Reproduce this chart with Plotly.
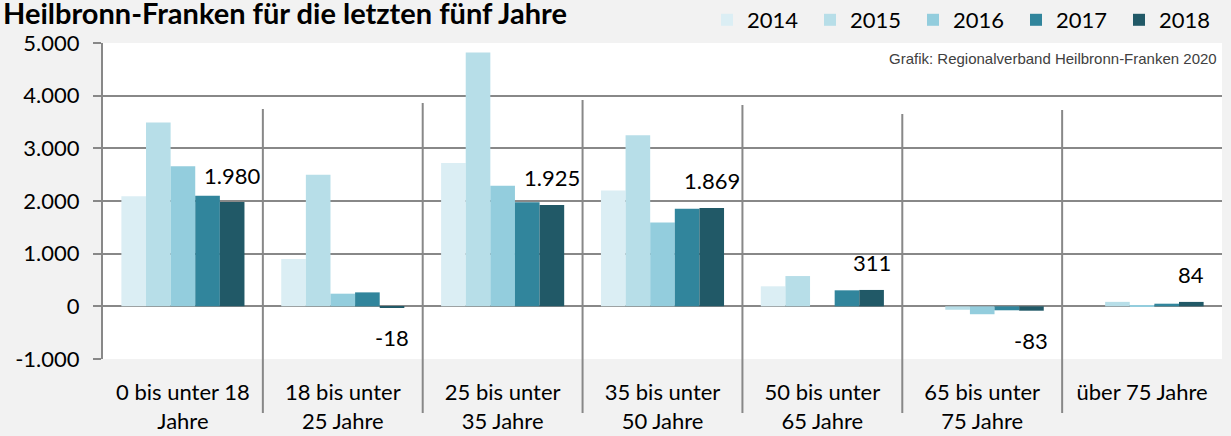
import plotly.graph_objects as go

# ---- data ----
categories = ["0-18", "18-25", "25-35", "35-50", "50-65", "65-75", "75+"]
category_labels = ["0 bis unter 18<br>Jahre", "18 bis unter<br>25 Jahre", "25 bis unter<br>35 Jahre",
                   "35 bis unter<br>50 Jahre", "50 bis unter<br>65 Jahre", "65 bis unter<br>75 Jahre",
                   "über 75 Jahre"]
years = ["2014", "2015", "2016", "2017", "2018"]
v2014 = [2090, 900, 2720, 2200, 380, 0, 0]
v2015 = [3490, 2500, 4820, 3250, 575, -65, 85]
v2016 = [2660, 240, 2290, 1590, 0, -150, 25]
v2017 = [2100, 265, 1975, 1855, 304, -75, 50]
v2018 = [1980, -18, 1925, 1869, 311, -83, 84]
y_tickvals = [-1000, 0, 1000, 2000, 3000, 4000, 5000]
y_ticktext = ["-1.000", "0", "1.000", "2.000", "3.000", "4.000", "5.000"]
title_text = "Heilbronn-Franken für die letzten fünf Jahre"
source_text = "Grafik: Regionalverband Heilbronn-Franken 2020"

# ---- styles ----
colors = ["#DBEEF4", "#B7DEE8", "#93CDDD", "#31859C", "#215967"]
FONT = "Lato"
GRID = "#888888"
W, H = 1231, 436
ML, MR, MT, MB = 103, 9, 43, 77
PW, PH = W - ML - MR, H - MT - MB

def px_x(x):
    return (x - ML) / PW

def px_y(y):
    return (H - MB - y) / PH

fig = go.Figure()
series = [v2014, v2015, v2016, v2017, v2018]
for name, vals, col in zip(years, series, colors):
    fig.add_trace(go.Bar(x=categories, y=vals, name=name, marker=dict(color=col, line=dict(width=0))))

# data labels for 2018
BARGAP = 0.23
cat_w = PW / len(categories)
bar_w = cat_w * (1 - BARGAP) / len(years)
for c, v in zip(categories, v2018):
    lbl = f"{v:,}".replace(",", ".")
    fig.add_annotation(x=c, y=v, xref="x", yref="y", text=lbl, showarrow=False,
                       xshift=2 * bar_w, yshift=27 if v >= 0 else -30,
                       font=dict(family=FONT, size=22, color="#000000"))

# vertical separators
sep_tops = [109, 103, 100, 105, 114, 110]
for i, t in enumerate(sep_tops):
    fig.add_shape(type="line", xref="x", yref="paper", x0=i + 0.5, x1=i + 0.5,
                  y0=px_y(413), y1=px_y(t), line=dict(color=GRID, width=2), layer="above")

fig.add_annotation(xref="paper", yref="paper", x=px_x(569), y=px_y(13), xanchor="right", yanchor="middle",
                   text="<b>" + title_text + "</b>", showarrow=False,
                   font=dict(family=FONT, size=29, color="#000000"))
fig.add_annotation(xref="paper", yref="paper", x=px_x(1219), y=px_y(58), xanchor="right", yanchor="middle",
                   text=source_text, showarrow=False,
                   font=dict(family="Liberation Sans", size=15, color="#404040"))

fig.update_layout(
    width=W, height=H,
    margin=dict(l=ML, r=MR, t=MT, b=MB, autoexpand=False),
    paper_bgcolor="#F2F2F2", plot_bgcolor="#FFFFFF",
    barmode="group", bargap=BARGAP, bargroupgap=0,
    font=dict(family=FONT, size=22, color="#000000"),
    showlegend=True,
    legend=dict(orientation="h", x=1.0, xanchor="right", y=px_y(20), yanchor="middle",
                font=dict(family=FONT, size=22), bgcolor="rgba(0,0,0,0)",
                entrywidth=58, traceorder="normal"),
)
fig.update_xaxes(type="category", showgrid=False, showline=False, ticks="",
                 tickmode="array", tickvals=categories, ticktext=category_labels,
                 ticklabelstandoff=18,
                 tickfont=dict(family=FONT, size=22), fixedrange=True)
fig.update_yaxes(range=[-1000, 5000], tickmode="array", tickvals=y_tickvals, ticktext=y_ticktext,
                 showgrid=True, gridcolor=GRID, gridwidth=2,
                 zeroline=True, zerolinecolor=GRID, zerolinewidth=2,
                 showline=True, linecolor=GRID, linewidth=2,
                 ticks="outside", ticklen=8, tickcolor=GRID, tickwidth=2,
                 ticklabelstandoff=9,
                 tickfont=dict(family=FONT, size=22), fixedrange=True)

fig.write_html("out.html", config={"displayModeBar": False},
               post_script="document.body.style.margin='0';document.body.style.background='#F2F2F2';")
